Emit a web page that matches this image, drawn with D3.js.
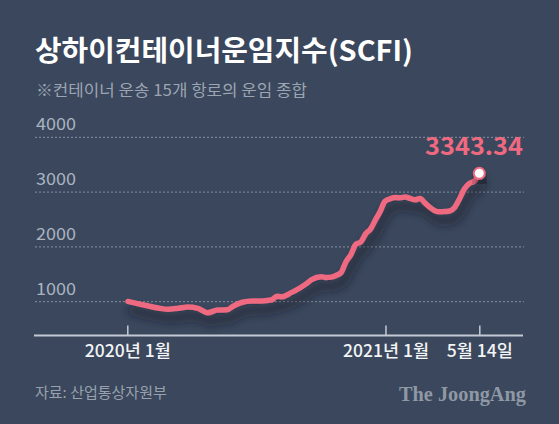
<!DOCTYPE html>
<html><head><meta charset="utf-8">
<script src="https://cdn.jsdelivr.net/npm/d3@7"></script>
<style>
html,body{margin:0;padding:0;background:#3a475c;}
svg{display:block;}
</style></head>
<body>
<svg id="chart" width="559" height="424"></svg>
<script>
const titleText = "상하이컨테이너운임지수(SCFI)";
const subtitleText = "※컨테이너 운송 15개 항로의 운임 종합";
const sourceText = "자료: 산업통상자원부";
const brandText = "The JoongAng";

const dates = ["2020-01-02","2020-01-17","2020-01-31","2020-02-14","2020-02-28","2020-03-13","2020-03-27","2020-04-10","2020-04-24","2020-05-08","2020-05-22","2020-05-29","2020-06-12","2020-06-26","2020-07-10","2020-07-24","2020-07-31","2020-08-07","2020-08-21","2020-08-28","2020-09-11","2020-09-18","2020-10-02","2020-10-09","2020-10-16","2020-10-23","2020-10-30","2020-11-06","2020-11-13","2020-11-20","2020-11-27","2020-12-04","2020-12-11","2020-12-18","2020-12-25","2020-12-31","2021-01-08","2021-01-15","2021-01-22","2021-01-29","2021-02-05","2021-02-12","2021-02-19","2021-02-26","2021-03-05","2021-03-12","2021-03-19","2021-03-26","2021-04-02","2021-04-09","2021-04-16","2021-04-23","2021-04-30","2021-05-07","2021-05-14"];
const values = [1005,960,921,885,862,880,905,880,800,848,852,910,990,1013,1015,1035,1100,1090,1170,1215,1330,1400,1456,1440,1448,1480,1530,1730,1860,2048,2090,2240,2330,2500,2660,2830,2880,2900,2895,2910,2885,2860,2885,2800,2720,2660,2640,2645,2655,2720,2880,3060,3160,3200,3343.34];

const yTicks = [1000,2000,3000,4000];
const xTickDates = ["2020-01-01","2021-01-01","2021-05-14"];
const xTickLabels = ["2020년 1월","2021년 1월","5월 14일"];
const lastLabel = "3343.34";

const KR = "'Noto Sans CJK KR','Noto Sans',sans-serif";
const SERIF = "'Liberation Serif','DejaVu Serif',serif";

const parse = d3.timeParse("%Y-%m-%d");
const data = dates.map((d,i)=>({date:parse(d), value:values[i]}));

const svg = d3.select("#chart");
const x = d3.scaleTime().domain([parse("2020-01-01"), parse("2021-05-14")]).range([127.3, 479.3]);
const y = d3.scaleLinear().domain([0,4000]).range([356.5,137.3]);

const defs = svg.append("defs");
const f = defs.append("filter").attr("id","shadow").attr("x","-10%").attr("y","-20%").attr("width","130%").attr("height","160%");
f.append("feDropShadow").attr("dx",3).attr("dy",9).attr("stdDeviation",5).attr("flood-color","#141b26").attr("flood-opacity",0.8);

// title
svg.append("text").attr("x",35).attr("y",61).attr("fill","#ffffff")
  .style("font-family",KR).attr("font-size",28).attr("font-weight",700)
  .attr("textLength",378).attr("lengthAdjust","spacingAndGlyphs")
  .text(titleText);
svg.append("text").attr("x",36).attr("y",96).attr("fill","#9ca5b2")
  .style("font-family",KR).attr("font-size",16).attr("textLength",271).attr("lengthAdjust","spacingAndGlyphs")
  .text(subtitleText);

// grid + y labels
const grid = svg.append("g");
grid.selectAll("line").data(yTicks).join("line")
  .attr("x1",35).attr("x2",524).attr("y1",d=>y(d)).attr("y2",d=>y(d))
  .attr("stroke","#8791a0").attr("stroke-width",1).attr("stroke-dasharray","2,2");
grid.selectAll("text").data(yTicks).join("text")
  .attr("x",36).attr("y",d=>y(d)-7).attr("fill","#aab3c0").attr("font-size",17)
  .style("font-family",KR)
  .attr("textLength",40).attr("lengthAdjust","spacingAndGlyphs")
  .text(d=>d);

// x axis
const axis = d3.axisBottom(x)
  .tickValues(xTickDates.map(parse))
  .tickFormat((d,i)=>xTickLabels[i])
  .tickSize(-10).tickSizeOuter(0);
const gx = svg.append("g").attr("transform","translate(0,335.5)").call(axis);
gx.select(".domain").remove();
gx.append("line").attr("x1",34).attr("x2",523).attr("y1",0).attr("y2",0)
  .attr("stroke","#c3cad4").attr("stroke-width",2);
gx.selectAll(".tick line").attr("stroke","#c3cad4").attr("stroke-width",1.5);
gx.selectAll(".tick text").attr("y",21).attr("dy",0).attr("fill","#f2f4f6")
  .attr("font-size",17.5).attr("font-weight",500).style("font-family",KR);

// line
const line = d3.line().x(d=>x(d.date)).y(d=>y(d.value)).curve(d3.curveMonotoneX);
svg.append("path").datum(data).attr("d",line)
  .attr("fill","none").attr("stroke","#ef6a80").attr("stroke-width",5.5)
  .attr("stroke-linejoin","round").attr("stroke-linecap","round")
  .attr("filter","url(#shadow)");

const last = data[data.length-1];
svg.append("circle").attr("cx",x(last.date)).attr("cy",y(last.value)).attr("r",5.5)
  .attr("fill","#ffffff").attr("stroke","#ef6a80").attr("stroke-width",2)
  .attr("filter","url(#shadow)");
svg.append("text").attr("x",425).attr("y",155).attr("fill","#ef6a80")
  .style("font-family",KR).attr("font-size",24).attr("font-weight",700)
  .attr("textLength",98).attr("lengthAdjust","spacingAndGlyphs")
  .text(lastLabel);

// footer
svg.append("text").attr("x",35).attr("y",398).attr("fill","#98a1ae")
  .style("font-family",KR).attr("font-size",15).text(sourceText);
svg.append("text").attr("x",526).attr("y",401).attr("text-anchor","end").attr("fill","#8f98a5")
  .style("font-family",SERIF).attr("font-size",20).attr("font-weight",700)
  .attr("textLength",127).attr("lengthAdjust","spacingAndGlyphs")
  .text(brandText);
</script>
</body></html>
